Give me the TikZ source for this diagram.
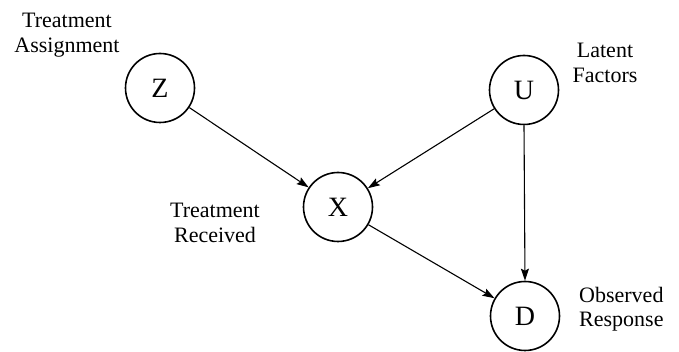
\documentclass[tikz,border=0pt]{standalone}
\usepackage{fontspec}
\setmainfont{Liberation Serif}
\usetikzlibrary{arrows.meta}
\begin{document}
\begin{tikzpicture}[x=1pt,y=1pt,
  var/.style={circle,draw=black,line width=1.6pt,minimum size=69pt,inner sep=0pt,font=\fontsize{28}{30}\selectfont},
  lbl/.style={align=center,inner sep=0pt,font=\fontsize{22}{25}\selectfont},
  lbll/.style={align=left,inner sep=0pt,font=\fontsize{22}{24}\selectfont},
  edge/.style={line width=1.1pt,-{Stealth[length=12pt,width=8pt,inset=2pt]}}]
\useasboundingbox (0,0) rectangle (679,352);
\node[var] (Z) at (160,264) {Z};
\node[var] (U) at (524,262) {U};
\node[var] (X) at (338,145) {X};
\node[var] (D) at (525,36) {D};
\node[lbl] (lz) at (67,317) {Treatment\\Assignment};
\node[lbl] (lu) at (605,289) {Latent\\Factors};
\node[lbl] (lx) at (215,129) {Treatment\\Received};
\node[lbll,anchor=west] (ld) at (579,43) {Observed\\Response};
\draw[edge] (Z) -- (X);
\draw[edge] (U) -- (X);
\draw[edge] (X) -- (D);
\draw[edge] (U.south) -- (D.north);
\end{tikzpicture}
\end{document}
